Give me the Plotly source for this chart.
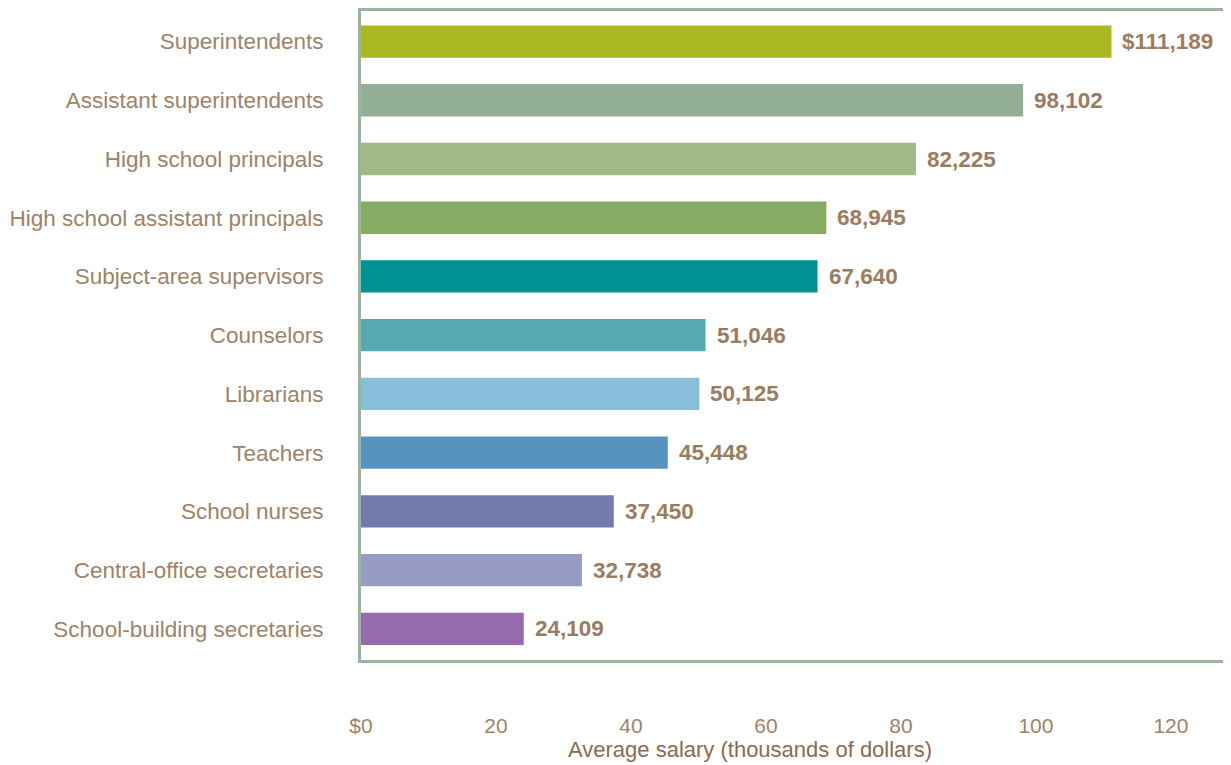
import plotly.graph_objects as go

categories = [
    "Superintendents",
    "Assistant superintendents",
    "High school principals",
    "High school assistant principals",
    "Subject-area supervisors",
    "Counselors",
    "Librarians",
    "Teachers",
    "School nurses",
    "Central-office secretaries",
    "School-building secretaries",
]
salaries = [111189, 98102, 82225, 68945, 67640, 51046, 50125, 45448, 37450, 32738, 24109]
value_labels = ["$111,189", "98,102", "82,225", "68,945", "67,640", "51,046",
                "50,125", "45,448", "37,450", "32,738", "24,109"]
bar_colors = ["#ABB820", "#93AF97", "#A0BA86", "#86AB62", "#009193", "#56A9B1",
              "#87BFDA", "#5893BF", "#737BAD", "#969BC4", "#966BAE"]
tick_vals = [0, 20, 40, 60, 80, 100, 120]
tick_text = ["$0", "20", "40", "60", "80", "100", "120"]
x_title = "Average salary (thousands of dollars)"

x_thousands = [s / 1000 for s in salaries]

fig = go.Figure()
fig.add_trace(go.Bar(
    y=categories,
    x=x_thousands,
    orientation="h",
    marker=dict(color=bar_colors, line=dict(width=0)),
    width=0.55,
    hoverinfo="skip",
))

for cat, xv, lab in zip(categories, x_thousands, value_labels):
    fig.add_annotation(
        x=xv, y=cat, text="<b>" + lab + "</b>", showarrow=False,
        xanchor="left", yanchor="middle", xshift=9,
        font=dict(family="Liberation Sans, Arial, sans-serif", size=22.5, color="#9C7B5E"),
    )

fig.add_annotation(
    xref="paper", yref="paper", x=0.447, y=0, yshift=-89,
    xanchor="center", yanchor="middle", showarrow=False,
    text=x_title,
    font=dict(family="Liberation Sans, Arial, sans-serif", size=22, color="#8C6A4E"),
)

axis_color = "#9AB59F"
brown = "#A08266"

fig.update_layout(
    width=1223, height=757,
    margin=dict(l=353, r=0, t=0, b=105),
    paper_bgcolor="white", plot_bgcolor="white",
    showlegend=False,
    font=dict(family="Liberation Sans, Arial, sans-serif", color=brown),
    xaxis=dict(
        range=[0, 128.9],
        tickvals=tick_vals, ticktext=tick_text,
        showgrid=False, zeroline=False,
        showline=True, mirror=True, linecolor=axis_color, linewidth=3,
        ticks="outside", ticklen=45, tickcolor="rgba(0,0,0,0)",
        tickfont=dict(size=21, color=brown),
    ),
    yaxis=dict(
        categoryorder="array", categoryarray=categories,
        range=[10.53, -0.52],
        showgrid=False, zeroline=False,
        showline=True, linecolor=axis_color, linewidth=3,
        ticks="outside", ticklen=30, tickcolor="rgba(0,0,0,0)",
        tickfont=dict(size=22.5, color=brown),
    ),
)

fig.write_html("out.html")
